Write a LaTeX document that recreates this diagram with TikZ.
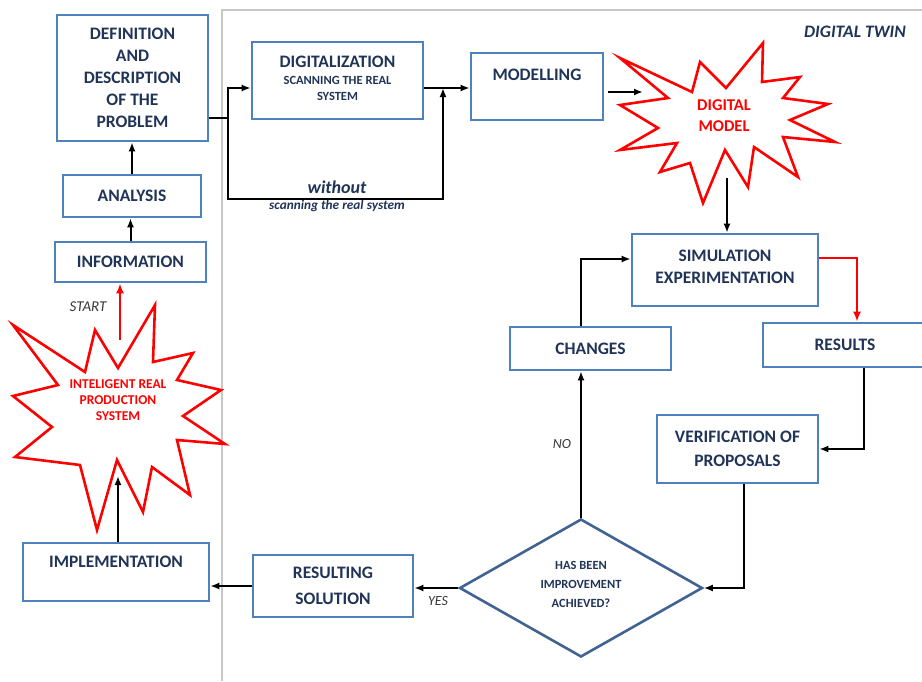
\documentclass[tikz,border=0pt]{standalone}
\usepackage{fontspec}
\setmainfont{Carlito}
\usetikzlibrary{arrows.meta,shapes.geometric,calc}
\definecolor{boxblue}{RGB}{79,129,189}
\definecolor{txtblue}{RGB}{32,52,88}
\definecolor{diablue}{RGB}{65,99,145}
\definecolor{framegray}{RGB}{200,200,200}
\definecolor{lblgray}{RGB}{55,55,55}
\tikzset{
  box/.style={draw=boxblue, line width=2.6pt, fill=white, text=txtblue,
    font=\bfseries\fontsize{17.5}{22}\selectfont, align=center, inner sep=2pt},
  arr/.style={line width=2pt, -{Latex[length=9pt,width=7pt]}},
  redarr/.style={red, line width=2.6pt, -{Latex[length=10pt,width=8pt]}},
  starline/.style={draw=red, line width=2.6pt, fill=white},
  startext/.style={text=red, font=\bfseries\fontsize{13.5}{16}\selectfont, align=center},
  lbl/.style={text=lblgray, font=\itshape\fontsize{15}{18}\selectfont},
}
\begin{document}
\begin{tikzpicture}[x=1pt,y=-1pt]
\useasboundingbox (0,0) rectangle (922,681);
% frame
\draw[framegray, line width=1.2pt] (922,10) -- (222,10) -- (222,681);
\node[text=txtblue, font=\bfseries\itshape\fontsize{17.5}{20}\selectfont] (dt) at (855,32) {DIGITAL TWIN};

% stars
\draw[starline] (13,325) -- (85,372) -- (95,330) -- (118,368) -- (155,305) -- (153,362)
  -- (193,353) -- (177,380) -- (221,390) -- (183,416) -- (225,444) -- (177,440)
  -- (190,495) -- (152,467) -- (143,512) -- (117,460) -- (97,530) -- (80,465)
  -- (15,457) -- (52,427) -- (13,396) -- (58,385) -- cycle;
\node[startext] (s1) at (118,400) {INTELIGENT REAL\\PRODUCTION\\SYSTEM};

\draw[starline] (620,58) -- (692,92) -- (700,62) -- (726,88) -- (763,43) -- (762,82)
  -- (800,77) -- (783,98) -- (828,104) -- (790,120) -- (835,142) -- (783,137)
  -- (798,177) -- (754,147) -- (748,187) -- (725,150) -- (703,203) -- (690,163)
  -- (660,172) -- (677,143) -- (620,150) -- (658,128) -- (620,105) -- (668,98) -- cycle;
\node[startext, font=\bfseries\fontsize{16.5}{21}\selectfont] (dm) at (724,115.5) {DIGITAL\\MODEL};

% boxes
\node[box, minimum width=151, minimum height=126] (def) at (132.5,78) {DEFINITION\\AND\\DESCRIPTION\\OF THE\\PROBLEM};
\node[box, minimum width=138, minimum height=42] (ana) at (132,196) {ANALYSIS};
\node[box, minimum width=151, minimum height=40] (inf) at (130.5,262) {INFORMATION};
\node[box, minimum width=186, minimum height=58] (imp) at (116,572) {IMPLEMENTATION\\[-2pt]\mbox{}};
\node[box, minimum width=160, minimum height=62] (res) at (333,586) {RESULTING\\[4pt]SOLUTION};
\node[draw=diablue, line width=2.6pt, fill=white, shape=diamond, aspect=1.76,
  minimum width=243, minimum height=138, inner sep=0pt, text=txtblue, align=center,
  font=\bfseries\fontsize{12.5}{19}\selectfont] (dia) at (581,588) {HAS BEEN\\IMPROVEMENT\\ACHIEVED?\\[-11pt]\mbox{}};
\node[box, minimum width=161, minimum height=43] (chg) at (590.5,348.5) {CHANGES};
\node[box, minimum width=186, minimum height=72] (sim) at (725,270) {SIMULATION\\EXPERIMENTATION\\[-16pt]\mbox{}};
\node[box, minimum width=164, minimum height=44] (rst) at (845,345) {RESULTS};
\node[box, minimum width=161, minimum height=68] (ver) at (737.5,449) {VERIFICATION OF\\[2pt]PROPOSALS};
\node[box, minimum width=132, minimum height=67] (mod) at (537,86.5) {MODELLING\\[2pt]\mbox{}};
\node[box, minimum width=171, minimum height=77] (dig) at (337.5,80.5)
  {DIGITALIZATION\\[-5pt]{\fontsize{12.5}{16}\selectfont SCANNING THE REAL}\\[-6pt]{\fontsize{12.5}{16}\selectfont SYSTEM}\\[-18pt]\mbox{}};

% labels
\node[lbl] (start) at (88,307) {START};
\node[lbl, font=\itshape\fontsize{14}{16}\selectfont] (no) at (562,444) {NO};
\node[lbl, font=\itshape\fontsize{14}{16}\selectfont] (yes) at (438,601) {YES};
\node[text=txtblue, font=\bfseries\itshape\fontsize{18}{20}\selectfont] (wo) at (337,187) {without};
\node[text=txtblue, font=\bfseries\itshape\fontsize{13.3}{14}\selectfont] (wo2) at (337,206) {scanning the real system};

% junction coordinates
\coordinate (j1) at (228,118);
\coordinate (j2) at (443,88);
\coordinate (b1) at (228,199);
\coordinate (b2) at (443,199);
\coordinate (dmL) at (643,92);
\coordinate (dmB) at (727,178);
\coordinate (s1B) at (118,476);
\coordinate (s1T) at (120,340);

% connectors
\draw[line width=2pt] (def.east |- j1) -- (j1);
\draw[arr] (j1) |- (dig.west |- j2);
\draw[arr] (j1) -- (b1) -- (b2) -- (j2);
\draw[arr] (dig.east |- j2) -- (mod.west |- j2);
\draw[arr] ([shift={(4pt,-5.5pt)}]mod.east) -- (dmL);
\draw[arr] (dmB) -- (dmB |- sim.north);
\draw[redarr] ([yshift=12pt]sim.east) -| ([xshift=12pt]rst.north);
\draw[arr] ([xshift=19pt]rst.south) |- (ver.east);
\draw[arr] ([xshift=6.5pt]ver.south) |- (dia.east);
\draw[arr] (dia.west) -- (dia.west -| res.east);
\draw[arr] (res.west) -- (res.west -| imp.east);
\draw[arr] (imp.north -| s1B) -- (s1B);
\draw[redarr] (s1T) -- (s1T |- inf.south);
\draw[arr] (inf.north) -- (inf.north |- ana.south);
\draw[arr] (ana.north) -- (ana.north |- def.south);
\draw[arr] (dia.north) -- (dia.north |- chg.south);
\draw[arr] ([xshift=-10pt]chg.north) |- ([yshift=11pt]sim.west);
\end{tikzpicture}
\end{document}
